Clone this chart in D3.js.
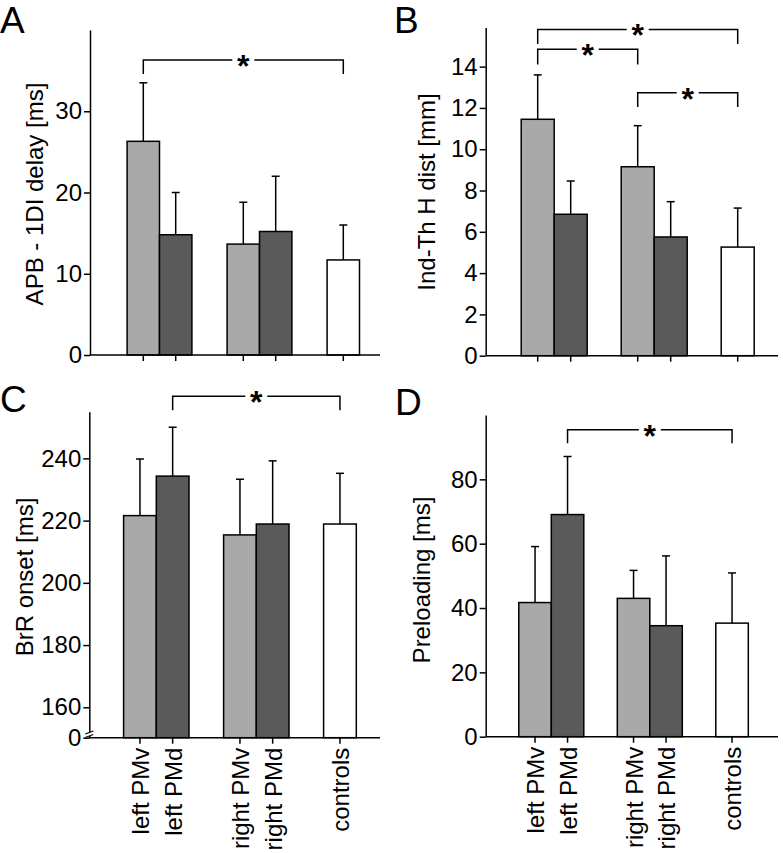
<!DOCTYPE html>
<html>
<head>
<meta charset="utf-8">
<script src="https://cdn.jsdelivr.net/npm/d3@7"></script>
<style>
  html, body { margin: 0; padding: 0; background: #fff; }
  svg { display: block; font-family: "Liberation Sans", Arial, Helvetica, sans-serif; }
</style>
</head>
<body>
<svg id="chart" width="783" height="853"></svg>
<script>
// ---------- data ----------
const categories = ["left PMv", "left PMd", "right PMv", "right PMd", "controls"];
const groups = ["left", "right", "controls"];
const groupOf = ["left", "left", "right", "right", "controls"];
const slotOf = [0, 1, 0, 1, 0];

const meanA = [26.3, 14.8, 13.65, 15.2, 11.7];
const sdA   = [7.2, 5.2, 5.15, 6.8, 4.3];
const ticksA = [0, 10, 20, 30];

const meanB = [11.45, 6.85, 9.15, 5.75, 5.26];
const sdB   = [2.15, 1.61, 1.99, 1.71, 1.89];
const ticksB = [0, 2, 4, 6, 8, 10, 12, 14];

const meanC = [221.6, 234.3, 215.4, 218.9, 218.9];
const sdC   = [18.2, 15.7, 17.9, 20.3, 16.3];
const ticksC = [0, 160, 180, 200, 220, 240];

const meanD = [41.7, 69.05, 43.0, 34.5, 35.3];
const sdD   = [17.4, 18.05, 8.7, 21.7, 15.6];
const ticksD = [0, 20, 40, 60, 80];

// significance brackets: from bar, to bar, level (axis units), leg end (axis units)
const sigA = [{ from: 0, to: 4, level: 36.3, leg: 34.6 }];
const sigB = [
  { from: 0, to: 4, level: 15.8, leg: 15.1 },
  { from: 0, to: 2, level: 14.84, leg: 14.1 },
  { from: 2, to: 4, level: 12.74, leg: 12.04 }
];
const sigC = [{ from: 1, to: 4, level: 260, leg: 255.5 }];
const sigD = [{ from: 1, to: 4, level: 95.4, leg: 91.2 }];

const titles = ["APB - 1DI delay [ms]", "Ind-Th H dist [mm]", "BrR onset [ms]", "Preloading [ms]"];
const letters = ["A", "B", "C", "D"];

// ---------- layout ----------
const fills = ["#a9a9a9", "#5a5a5a", "#a9a9a9", "#5a5a5a", "#ffffff"];
const svg = d3.select("#chart");

const panels = [
  { letter: letters[0], lx: 0, ly: 33, title: titles[0], tx: 43, ty: 194,
    axisX: 90, xEnd: 380, yDomain: [0, 40], yRange: [355, 30], ticks: ticksA,
    mean: meanA, sd: sdA, sig: sigA, slot0: 127.1, slotW: 32.4, step: 100, labels: false },
  { letter: letters[1], lx: 394, ly: 33, title: titles[1], tx: 435, ty: 192,
    axisX: 485.7, xEnd: 778, yDomain: [0, 15.9], yRange: [355.7, 27.4], ticks: ticksB,
    mean: meanB, sd: sdB, sig: sigB, slot0: 521.2, slotW: 33, step: 100, labels: false },
  { letter: letters[2], lx: 0, ly: 412, title: titles[2], tx: 33, ty: 577,
    axisX: 89.3, xEnd: 380, yDomain: [0, 160, 255], yRange: [737.7, 707.3, 411.7], ticks: ticksC,
    mean: meanC, sd: sdC, sig: sigC, slot0: 123.6, slotW: 32.7, step: 100, labels: true, brk: true },
  { letter: letters[3], lx: 395, ly: 415, title: titles[3], tx: 430, ty: 580,
    axisX: 485.7, xEnd: 778, yDomain: [0, 100], yRange: [736.7, 415], ticks: ticksD,
    mean: meanD, sd: sdD, sig: sigD, slot0: 518.8, slotW: 32.5, step: 98.5, labels: true }
];

panels.forEach(drawPanel);

function drawPanel(p) {
  const g = svg.append("g");
  const y = d3.scaleLinear().domain(p.yDomain).range(p.yRange);
  const y0 = p.yRange[0];
  const x = d3.scaleBand().domain(groups)
    .range([p.slot0, p.slot0 + 2 * p.step + 2 * p.slotW])
    .paddingInner(1 - 2 * p.slotW / p.step).paddingOuter(0);
  const xi = d3.scaleBand().domain([0, 1]).range([0, x.bandwidth()]);
  const left = i => x(groupOf[i]) + xi(slotOf[i]);
  const cx = i => left(i) + xi.bandwidth() / 2;

  // panel letter
  g.append("text").attr("x", p.lx).attr("y", p.ly)
    .attr("font-size", 37).attr("fill", "#000").text(p.letter);

  // y title
  g.append("text")
    .attr("transform", `translate(${p.tx},${p.ty}) rotate(-90)`)
    .attr("text-anchor", "middle").attr("font-size", 24).attr("fill", "#000")
    .text(p.title);

  // bars
  const idx = d3.range(categories.length);
  g.selectAll("rect.bar").data(idx).join("rect")
    .attr("class", "bar")
    .attr("x", i => left(i))
    .attr("width", xi.bandwidth())
    .attr("y", i => y(p.mean[i]))
    .attr("height", i => y0 - y(p.mean[i]))
    .attr("fill", i => fills[i])
    .attr("stroke", "#000").attr("stroke-width", 1.5);

  // error bars
  g.selectAll("line.err").data(idx).join("line")
    .attr("class", "err")
    .attr("x1", i => cx(i)).attr("x2", i => cx(i))
    .attr("y1", i => y(p.mean[i])).attr("y2", i => y(p.mean[i] + p.sd[i]))
    .attr("stroke", "#000").attr("stroke-width", 1.5);
  g.selectAll("line.cap").data(idx).join("line")
    .attr("class", "cap")
    .attr("x1", i => cx(i) - 4).attr("x2", i => cx(i) + 4)
    .attr("y1", i => y(p.mean[i] + p.sd[i])).attr("y2", i => y(p.mean[i] + p.sd[i]))
    .attr("stroke", "#000").attr("stroke-width", 1.5);

  // y axis
  const ax = g.append("g").attr("transform", `translate(${p.axisX},0)`)
    .call(d3.axisLeft(y).tickValues(p.ticks).tickSize(6).tickSizeOuter(0).tickPadding(2).tickFormat(d3.format("d")));
  ax.select(".domain").attr("stroke", "#000").attr("stroke-width", 1.5);
  ax.selectAll(".tick line").attr("stroke", "#000").attr("stroke-width", 1.5);
  ax.selectAll(".tick text").attr("font-size", 24).attr("fill", "#000")
    .attr("font-family", "Liberation Sans, Arial, sans-serif");

  // x axis line
  g.append("line").attr("x1", p.axisX).attr("x2", p.xEnd)
    .attr("y1", y0).attr("y2", y0).attr("stroke", "#000").attr("stroke-width", 1.5);
  // x ticks
  g.selectAll("line.xt").data(idx).join("line")
    .attr("class", "xt")
    .attr("x1", i => cx(i)).attr("x2", i => cx(i))
    .attr("y1", y0).attr("y2", y0 + 6)
    .attr("stroke", "#000").attr("stroke-width", 1.5);

  if (p.labels) {
    g.selectAll("text.xl").data(idx).join("text")
      .attr("class", "xl")
      .attr("transform", i => `translate(${cx(i)},${y0 + 10}) rotate(-90)`)
      .attr("text-anchor", "end").attr("dy", "0.38em")
      .attr("font-size", 24).attr("fill", "#000")
      .text(i => categories[i]);
  }

  // axis break
  if (p.brk) {
    const yb = (y(0) + y(160)) / 2 + 12;
    g.append("rect").attr("x", p.axisX - 3).attr("y", yb - 2).attr("width", 6).attr("height", 3.5).attr("fill", "#fff");
    [-2, 1.5].forEach(o => {
      g.append("line").attr("x1", p.axisX - 4).attr("x2", p.axisX + 4)
        .attr("y1", yb + o + 1.5).attr("y2", yb + o - 1.5)
        .attr("stroke", "#000").attr("stroke-width", 1.2);
    });
  }

  // significance brackets
  p.sig.forEach(s => {
    const x1 = cx(s.from), x2 = cx(s.to), ym = y(s.level), yl = y(s.leg);
    const mid = (x1 + x2) / 2;
    g.append("path")
      .attr("d", `M${x1},${yl}V${ym}H${mid - 11}M${mid + 11},${ym}H${x2}V${yl}`)
      .attr("fill", "none").attr("stroke", "#000").attr("stroke-width", 1.5);
    g.append("text").attr("x", mid).attr("y", ym + 17)
      .attr("text-anchor", "middle").attr("font-size", 32).attr("font-weight", "bold").attr("fill", "#000")
      .text("*");
  });
}
</script>
</body>
</html>
